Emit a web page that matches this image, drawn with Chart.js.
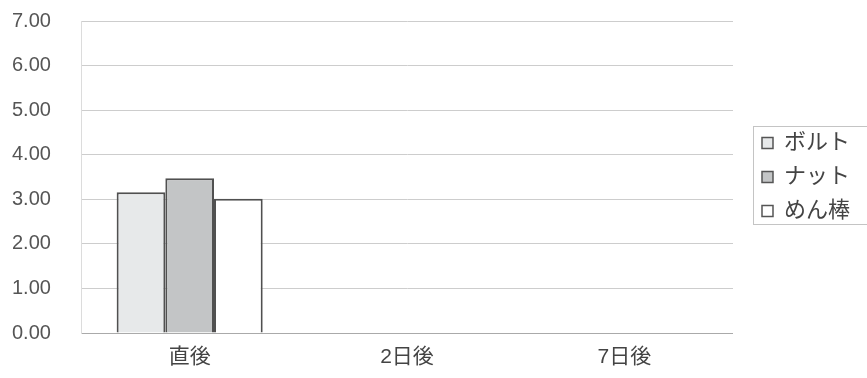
<!DOCTYPE html>
<html>
<head>
<meta charset="utf-8">
<script src="https://cdn.jsdelivr.net/npm/chart.js@4.4.0/dist/chart.umd.min.js"></script>
<style>
  html, body { margin: 0; padding: 0; background: #fff; }
  #wrap { width: 867px; height: 378px; }
</style>
</head>
<body>
<div id="wrap"><canvas id="grafica"></canvas></div>
<script>
// datos
const categorias = ['直後', '2日後', '7日後'];
const boruto = [3.16, null, null];
const natto = [3.47, null, null];
const menbo = [3.01, null, null];
const ticksY = [0, 1, 2, 3, 4, 5, 6, 7];

const fuente = "'Liberation Sans', Arial, 'Noto Sans CJK JP', sans-serif";

// marco del legend (borde fino que sale por la derecha)
const marcoLeyenda = {
    id: 'marcoLeyenda',
    afterDraw(chart) {
        const lg = chart.legend;
        if (!lg) return;
        const ctx = chart.ctx;
        ctx.save();
        ctx.strokeStyle = '#c4c4c4';
        ctx.lineWidth = 1;
        ctx.strokeRect(Math.round(lg.left) + 3.5, 126.5, chart.width, 98);
        ctx.restore();
    }
};

const ctx = document.getElementById('grafica').getContext('2d');
new Chart(ctx, {
    type: 'bar',
    data: {
        labels: categorias,
        datasets: [
            { label: 'ボルト', data: boruto, backgroundColor: '#e7e9ea', borderColor: '#505050', borderWidth: 2 },
            { label: 'ナット', data: natto, backgroundColor: '#c3c5c6', borderColor: '#505050', borderWidth: 2 },
            { label: 'めん棒', data: menbo, backgroundColor: '#ffffff', borderColor: '#505050', borderWidth: 2 }
        ]
    },
    options: {
        responsive: true,
        maintainAspectRatio: false,
        animation: false,
        layout: { padding: { top: 21, left: 12, bottom: 8, right: 7 } },
        datasets: { bar: { barPercentage: 1, categoryPercentage: 0.672 } },
        plugins: {
            tooltip: { enabled: false },
            legend: {
                position: 'right',
                align: 'center',
                fullSize: false,
                labels: {
                    font: { family: fuente, size: 22 },
                    color: '#444',
                    boxWidth: 11,
                    boxHeight: 11,
                    padding: 12,
                    generateLabels(chart) {
                        return Chart.defaults.plugins.legend.labels.generateLabels(chart).map(it => {
                            it.lineWidth = 1.5;
                            it.strokeStyle = '#555';
                            return it;
                        });
                    }
                }
            }
        },
        scales: {
            x: {
                afterFit(axis) { axis.height = 37; },
                grid: { display: false, drawTicks: false },
                border: { color: '#aaa', width: 1 },
                ticks: { font: { family: fuente, size: 21 }, color: '#444', padding: 12 }
            },
            y: {
                min: 0,
                max: 7,
                afterBuildTicks(axis) { axis.ticks = ticksY.map(v => ({ value: v })); },
                afterFit(axis) { axis.width = 69; },
                grid: { color: '#cdcdcd', lineWidth: 1, drawTicks: false },
                border: { color: '#dcdcdc', width: 1 },
                ticks: {
                    font: { family: fuente, size: 20 },
                    color: '#555',
                    padding: 0,
                    crossAlign: 'far',
                    callback: v => v.toFixed(2)
                }
            },
            // hueco entre el area y el legend
            hueco: {
                position: 'right',
                display: true,
                grid: { display: false, drawTicks: false },
                border: { display: false },
                ticks: { display: false },
                afterFit(axis) { axis.width = 17; }
            }
        }
    },
    plugins: [marcoLeyenda]
});
</script>
</body>
</html>
